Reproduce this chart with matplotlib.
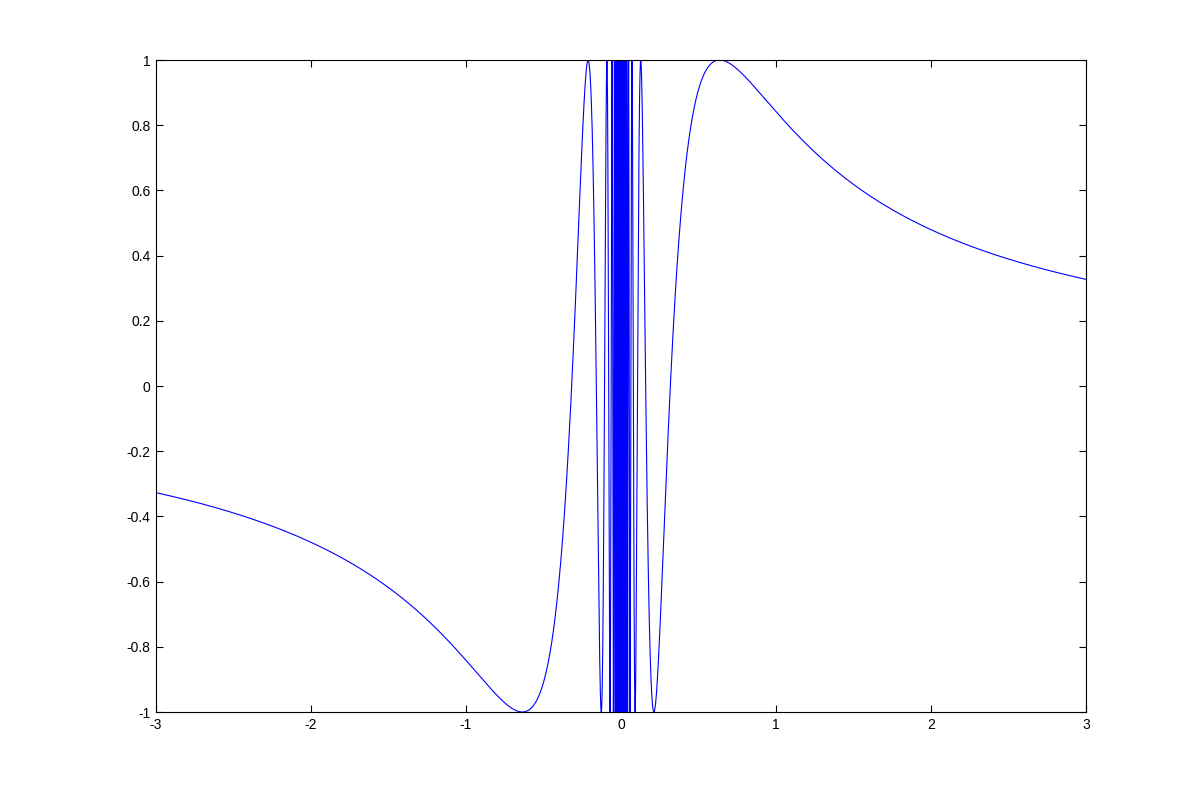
import numpy as np
import matplotlib.pyplot as plt


# Definitions/Config

plt.rcParams["font.family"] = ["Liberation Sans", "DejaVu Sans"]

X_Min = -3
X_Max = 3
N_Points = 60001

X_Ticks = [-3, -2, -1, 0, 1, 2, 3]
Y_Ticks = [-1, -0.8, -0.6, -0.4, -0.2, 0, 0.2, 0.4, 0.6, 0.8, 1]
Y_Labels = ["-1", "-0.8", "-0.6", "-0.4", "-0.2", "0", "0.2", "0.4", "0.6", "0.8", "1"]


# Data: y = sin(1/x)

X = np.linspace(X_Min, X_Max, N_Points)
with np.errstate(divide= "ignore", invalid= "ignore"):
    Y = np.sin(1.0 / X)
Y[~np.isfinite(Y)] = np.nan


# Plotting

fig = plt.figure(figsize= (12, 8), dpi= 100)
ax = fig.add_axes([0.13, 0.11, 0.775, 0.815])

ax.plot(X, Y, color= (0, 0, 1), linewidth= 0.8)

ax.set_xlim(X_Min, X_Max)
ax.set_ylim(-1, 1)
ax.set_xticks(X_Ticks)
ax.set_xticklabels([str(t) for t in X_Ticks])
ax.set_yticks(Y_Ticks)
ax.set_yticklabels(Y_Labels)

ax.tick_params(direction= "in", top= True, right= True, length= 5, width= 0.8, labelsize= 10, pad= 4)
for s in ax.spines.values():
    s.set_linewidth(0.8)

plt.savefig("out.png", dpi= 100)
